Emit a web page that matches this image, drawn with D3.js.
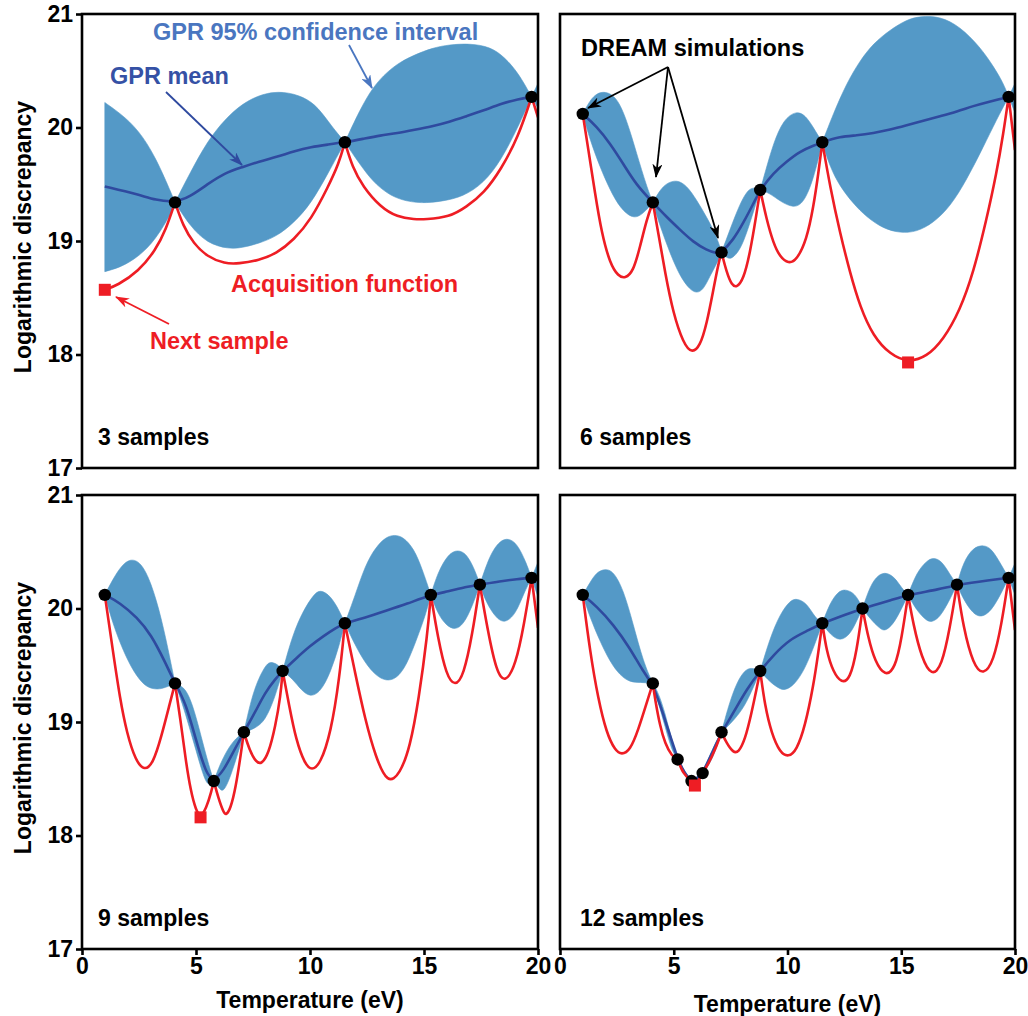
<!DOCTYPE html>
<html><head><meta charset="utf-8">
<script src="https://cdn.jsdelivr.net/npm/d3@7"></script>
<style>
body{margin:0;background:#fff}
svg{display:block}
text{font-family:"Liberation Sans",Arial,Helvetica,sans-serif;font-weight:bold}
</style>
</head><body>
<svg id="c" width="1028" height="1016"></svg>
<script>
// ---------------- data ----------------
const xTicks = [0, 5, 10, 15, 20];
const yTicks = [17, 18, 19, 20, 21];
const panelLabels = ["3 samples", "6 samples", "9 samples", "12 samples"];
const xTitle = "Temperature (eV)";
const yTitle = "Logarithmic discrepancy";

// ---- 3 samples ----
const samples3 = [[4.08,19.34],[11.53,19.87],[19.72,20.27]];
const next3 = [1.0,18.57];
const upper3 = [[1.0,20.22],[1.71,20.12],[2.47,19.98],[3.23,19.74],[3.98,19.39],[4.08,19.34],[4.74,19.60],[5.5,19.88],[6.26,20.07],[7.02,20.21],[7.92,20.30],[8.83,20.32],[9.74,20.27],[10.35,20.18],[10.95,20.01],[11.53,19.87],[12.17,20.15],[12.77,20.36],[13.38,20.49],[13.98,20.58],[14.59,20.64],[15.35,20.70],[16.11,20.73],[17.02,20.74],[17.92,20.71],[18.53,20.62],[19.14,20.48],[19.72,20.27],[20,20.39]];
const lower3 = [[1.0,18.73],[1.71,18.77],[2.47,18.86],[3.23,19.01],[3.98,19.27],[4.08,19.34],[4.74,19.13],[5.5,18.98],[6.41,18.93],[7.02,18.94],[7.77,18.98],[8.53,19.04],[9.29,19.16],[10.05,19.33],[10.8,19.60],[11.53,19.87],[12.17,19.68],[12.77,19.52],[13.38,19.42],[13.98,19.36],[14.89,19.33],[15.8,19.35],[16.71,19.39],[17.62,19.51],[18.38,19.71],[19.14,20.01],[19.72,20.27],[20,20.17]];
const mean3 = [[1.0,19.48],[2.47,19.41],[3.23,19.36],[4.08,19.34],[4.74,19.39],[5.5,19.50],[6.26,19.60],[7.02,19.65],[7.77,19.70],[8.53,19.74],[9.29,19.79],[10.05,19.83],[10.8,19.85],[11.53,19.87],[12.32,19.90],[13.08,19.93],[13.83,19.95],[14.59,19.98],[15.35,20.01],[16.11,20.05],[16.86,20.10],[17.62,20.15],[18.38,20.21],[19.14,20.25],[19.72,20.27],[20,20.28]];
const acq3 = [[1.0,18.57],[1.56,18.61],[2.47,18.73],[3.23,18.92],[3.68,19.10],[4.08,19.34],[4.44,19.13],[4.89,18.98],[5.5,18.86],[6.26,18.80],[6.86,18.80],[7.77,18.83],[8.53,18.89],[9.29,19.01],[10.05,19.19],[10.8,19.48],[11.26,19.68],[11.53,19.87],[11.86,19.65],[12.32,19.48],[13.08,19.30],[13.83,19.21],[14.59,19.19],[15.05,19.19],[16.11,19.21],[16.86,19.30],[17.62,19.42],[18.38,19.63],[19.14,19.92],[19.72,20.27],[20,20.09]];

// ---- 6 samples ----
const samples6 = [[1.0,20.12],[4.08,19.34],[7.1,18.90],[8.8,19.45],[11.53,19.87],[19.72,20.27]];
const next6 = [15.3,17.93];
const upper6 = [[1.0,20.12],[1.32,20.24],[1.61,20.30],[1.98,20.32],[2.49,20.27],[2.93,20.07],[3.37,19.77],[3.81,19.48],[4.08,19.34],[4.40,19.45],[4.69,19.51],[5.13,19.54],[5.57,19.49],[6.01,19.36],[6.45,19.21],[6.89,19.04],[7.1,18.90],[7.47,19.10],[7.91,19.33],[8.28,19.46],[8.57,19.47],[8.8,19.45],[9.08,19.65],[9.38,19.86],[9.82,20.07],[10.40,20.15],[10.84,20.10],[11.28,19.95],[11.53,19.87],[12.01,20.12],[12.6,20.39],[13.19,20.59],[13.77,20.74],[14.51,20.86],[15.24,20.95],[15.82,20.98],[16.70,20.98],[17.58,20.89],[18.46,20.71],[19.05,20.54],[19.49,20.39],[19.72,20.27],[20,20.39]];
const lower6 = [[1.0,20.12],[1.32,19.89],[1.76,19.65],[2.2,19.45],[2.64,19.29],[3.22,19.19],[3.66,19.24],[4.08,19.34],[4.40,19.13],[4.84,18.89],[5.27,18.69],[5.71,18.57],[6.01,18.54],[6.30,18.57],[6.59,18.69],[6.89,18.80],[7.1,18.90],[7.33,18.85],[7.55,18.84],[7.91,18.92],[8.21,19.07],[8.57,19.30],[8.8,19.45],[9.23,19.42],[9.67,19.35],[10.26,19.29],[10.70,19.33],[11.14,19.54],[11.53,19.87],[11.87,19.65],[12.31,19.48],[12.89,19.33],[13.48,19.21],[14.21,19.11],[14.95,19.07],[15.68,19.08],[16.41,19.16],[17.14,19.30],[17.88,19.54],[18.61,19.83],[19.19,20.07],[19.72,20.27],[20,20.13]];
const mean6 = [[1.0,20.12],[1.61,20.01],[2.2,19.86],[2.78,19.68],[3.37,19.49],[4.08,19.34],[4.69,19.21],[5.27,19.10],[5.86,18.99],[6.45,18.92],[6.89,18.89],[7.1,18.90],[7.62,19.01],[8.06,19.16],[8.5,19.33],[8.8,19.45],[9.38,19.60],[9.96,19.70],[10.55,19.79],[11.14,19.84],[11.53,19.87],[12.31,19.92],[13.04,19.93],[13.77,19.95],[14.51,19.98],[15.24,20.02],[15.97,20.06],[16.70,20.10],[17.44,20.14],[18.17,20.19],[18.90,20.23],[19.72,20.27],[20,20.28]];
const acq6 = [[1.0,20.12],[1.25,19.80],[1.54,19.42],[1.83,19.07],[2.2,18.80],[2.56,18.69],[2.86,18.67],[3.22,18.73],[3.52,18.95],[3.81,19.19],[4.08,19.34],[4.32,19.07],[4.62,18.72],[4.98,18.36],[5.42,18.10],[5.79,18.01],[6.15,18.07],[6.45,18.27],[6.74,18.57],[6.96,18.80],[7.1,18.90],[7.33,18.72],[7.55,18.61],[7.77,18.59],[8.06,18.66],[8.35,18.89],[8.64,19.24],[8.8,19.45],[9.08,19.19],[9.38,18.98],[9.67,18.86],[10.04,18.80],[10.40,18.83],[10.84,19.01],[11.14,19.30],[11.36,19.60],[11.53,19.87],[11.87,19.48],[12.31,19.07],[12.75,18.72],[13.19,18.42],[13.77,18.16],[14.51,18.0],[15.3,17.93],[16.12,17.98],[16.85,18.13],[17.58,18.39],[18.17,18.72],[18.75,19.19],[19.19,19.60],[19.49,19.95],[19.72,20.27],[20,19.80]];

// ---- 9 samples ----
const samples9 = [[1.0,20.12],[4.08,19.34],[5.78,18.48],[7.1,18.91],[8.8,19.45],[11.53,19.87],[15.3,20.12],[17.45,20.21],[19.72,20.27]];
const next9 = [5.2,18.16];
const upper9 = [[1.0,20.12],[1.36,20.26],[1.74,20.38],[2.12,20.44],[2.58,20.41],[3.03,20.23],[3.48,19.92],[3.86,19.56],[4.08,19.34],[4.47,19.31],[4.77,19.20],[5.08,18.99],[5.38,18.75],[5.68,18.54],[5.78,18.48],[6.06,18.63],[6.36,18.75],[6.67,18.84],[6.97,18.89],[7.1,18.91],[7.42,19.20],[7.73,19.38],[8.11,19.52],[8.33,19.53],[8.64,19.50],[8.8,19.45],[9.24,19.77],[9.70,19.98],[10.15,20.12],[10.45,20.17],[10.91,20.11],[11.29,19.98],[11.53,19.87],[11.97,20.11],[12.42,20.38],[12.88,20.54],[13.33,20.63],[13.71,20.65],[14.09,20.63],[14.55,20.53],[14.92,20.35],[15.3,20.12],[15.61,20.32],[16.06,20.48],[16.48,20.52],[16.89,20.48],[17.27,20.32],[17.45,20.21],[17.88,20.47],[18.33,20.60],[18.71,20.62],[19.09,20.57],[19.47,20.41],[19.72,20.27],[20,20.41]];
const lower9 = [[1.0,20.12],[1.36,19.86],[1.82,19.62],[2.27,19.44],[2.73,19.32],[3.11,19.29],[3.48,19.29],[3.86,19.32],[4.08,19.34],[4.39,19.17],[4.70,18.96],[5.0,18.75],[5.30,18.54],[5.53,18.43],[5.78,18.48],[6.06,18.40],[6.21,18.39],[6.44,18.48],[6.74,18.66],[6.97,18.81],[7.1,18.91],[7.42,18.93],[7.88,18.98],[8.18,19.08],[8.48,19.23],[8.8,19.45],[9.24,19.38],[9.62,19.28],[10.0,19.22],[10.45,19.26],[10.91,19.44],[11.29,19.68],[11.53,19.87],[11.97,19.68],[12.42,19.52],[12.88,19.41],[13.33,19.36],[13.79,19.38],[14.24,19.50],[14.70,19.74],[15.08,19.95],[15.3,20.12],[15.61,19.95],[15.98,19.85],[16.36,19.81],[16.74,19.86],[17.12,20.02],[17.45,20.21],[17.73,20.05],[18.18,19.91],[18.56,19.87],[19.02,19.95],[19.39,20.14],[19.72,20.27],[20,20.10]];
const mean9 = [[1.0,20.12],[1.67,20.05],[2.42,19.92],[3.03,19.77],[3.64,19.53],[4.08,19.34],[4.55,19.17],[5.0,18.84],[5.45,18.54],[5.78,18.48],[6.21,18.57],[6.67,18.75],[7.1,18.91],[7.58,19.08],[8.03,19.26],[8.48,19.38],[8.8,19.45],[9.39,19.56],[10.0,19.67],[10.61,19.76],[11.14,19.83],[11.53,19.87],[12.42,19.92],[13.33,19.98],[14.24,20.04],[15.3,20.12],[16.06,20.15],[16.82,20.19],[17.45,20.21],[18.33,20.24],[19.09,20.26],[19.72,20.27],[20,20.28]];
const acq9 = [[1.0,20.12],[1.36,19.62],[1.67,19.20],[1.97,18.90],[2.35,18.66],[2.73,18.57],[3.11,18.63],[3.48,18.87],[3.86,19.17],[4.08,19.34],[4.32,19.02],[4.55,18.66],[4.77,18.39],[5.0,18.22],[5.2,18.16],[5.45,18.24],[5.68,18.39],[5.78,18.48],[5.98,18.33],[6.21,18.20],[6.33,18.18],[6.52,18.24],[6.74,18.42],[6.97,18.72],[7.1,18.91],[7.35,18.75],[7.65,18.64],[7.88,18.63],[8.18,18.72],[8.48,18.96],[8.71,19.23],[8.8,19.45],[9.09,19.14],[9.39,18.84],[9.77,18.63],[10.08,18.57],[10.45,18.63],[10.91,18.90],[11.29,19.38],[11.53,19.87],[11.97,19.44],[12.42,19.02],[12.88,18.69],[13.41,18.45],[13.94,18.54],[14.39,18.78],[14.77,19.20],[15.15,19.77],[15.3,20.12],[15.61,19.74],[15.98,19.41],[16.36,19.31],[16.74,19.41],[17.12,19.77],[17.45,20.21],[17.80,19.80],[18.18,19.44],[18.56,19.34],[19.02,19.50],[19.39,19.86],[19.72,20.27],[20,19.83]];

// ---- 12 samples ----
const samples12 = [[1.0,20.12],[4.08,19.34],[5.17,18.67],[5.78,18.48],[6.27,18.55],[7.1,18.91],[8.8,19.45],[11.53,19.87],[13.3,20.0],[15.3,20.12],[17.45,20.21],[19.72,20.27]];
const next12 = [5.93,18.44];
const upper12 = [[1.0,20.12],[1.32,20.23],[1.61,20.32],[1.98,20.35],[2.34,20.33],[2.78,20.17],[3.22,19.86],[3.66,19.53],[4.08,19.34],[4.32,19.26],[4.62,19.08],[4.91,18.84],[5.17,18.67],[5.47,18.57],[5.78,18.48],[6.02,18.52],[6.27,18.55],[6.52,18.67],[6.81,18.81],[7.1,18.91],[7.40,19.14],[7.77,19.35],[8.13,19.46],[8.42,19.48],[8.8,19.45],[9.23,19.74],[9.67,19.95],[10.11,20.07],[10.40,20.09],[10.84,20.05],[11.21,19.92],[11.53,19.87],[11.87,20.05],[12.23,20.15],[12.53,20.17],[12.89,20.14],[13.11,20.08],[13.3,20.0],[13.63,20.20],[13.99,20.30],[14.36,20.32],[14.73,20.27],[15.02,20.18],[15.3,20.12],[15.68,20.32],[16.12,20.42],[16.41,20.45],[16.78,20.42],[17.14,20.30],[17.45,20.21],[17.73,20.41],[18.17,20.54],[18.61,20.56],[18.97,20.53],[19.41,20.38],[19.72,20.27],[20,20.40]];
const lower12 = [[1.0,20.12],[1.32,19.92],[1.76,19.71],[2.20,19.53],[2.64,19.41],[3.08,19.35],[3.52,19.35],[4.08,19.34],[4.32,19.17],[4.62,18.96],[4.91,18.75],[5.17,18.67],[5.47,18.53],[5.78,18.48],[6.02,18.48],[6.27,18.55],[6.52,18.61],[6.81,18.73],[7.1,18.91],[7.47,18.98],[7.91,19.08],[8.28,19.20],[8.8,19.45],[9.23,19.35],[9.67,19.29],[9.89,19.28],[10.26,19.32],[10.70,19.44],[11.14,19.65],[11.53,19.87],[11.87,19.77],[12.31,19.71],[12.75,19.77],[13.04,19.89],[13.3,20.0],[13.63,19.91],[14.07,19.82],[14.29,19.80],[14.65,19.86],[15.02,20.0],[15.3,20.12],[15.68,19.98],[16.12,19.89],[16.34,19.88],[16.70,19.92],[17.14,20.08],[17.45,20.21],[17.73,20.08],[18.17,19.95],[18.53,19.92],[18.97,19.98],[19.41,20.14],[19.72,20.27],[20,20.12]];
const mean12 = [[1.0,20.12],[1.61,20.02],[2.34,19.86],[3.08,19.65],[3.66,19.44],[4.08,19.34],[4.62,19.02],[5.17,18.67],[5.47,18.55],[5.78,18.48],[6.02,18.50],[6.27,18.55],[6.67,18.72],[7.1,18.91],[7.62,19.08],[8.21,19.29],[8.8,19.45],[9.38,19.59],[10.11,19.73],[10.84,19.80],[11.53,19.87],[12.6,19.95],[13.3,20.0],[14.65,20.08],[15.3,20.12],[16.70,20.17],[17.45,20.21],[18.90,20.25],[19.72,20.27],[20,20.28]];
const acq12 = [[1.0,20.12],[1.32,19.62],[1.68,19.20],[2.05,18.90],[2.42,18.75],[2.71,18.71],[3.08,18.75],[3.44,18.93],[3.81,19.17],[4.08,19.34],[4.18,19.20],[4.40,18.96],[4.62,18.81],[4.91,18.70],[5.17,18.67],[5.42,18.54],[5.78,18.48],[5.93,18.44],[6.08,18.48],[6.27,18.55],[6.52,18.63],[6.81,18.75],[7.1,18.91],[7.33,18.81],[7.62,18.73],[7.84,18.73],[8.13,18.84],[8.42,19.08],[8.64,19.29],[8.8,19.45],[9.01,19.14],[9.30,18.90],[9.67,18.73],[10.04,18.69],[10.40,18.75],[10.77,18.96],[11.14,19.32],[11.36,19.62],[11.53,19.87],[11.72,19.62],[12.01,19.44],[12.38,19.34],[12.75,19.38],[13.04,19.62],[13.3,20.0],[13.55,19.74],[13.85,19.53],[14.29,19.40],[14.73,19.47],[15.02,19.74],[15.3,20.12],[15.53,19.86],[15.90,19.56],[16.34,19.40],[16.78,19.49],[17.14,19.83],[17.45,20.21],[17.73,19.83],[18.17,19.50],[18.61,19.41],[19.05,19.53],[19.41,19.86],[19.72,20.27],[20,19.81]];

// ---------------- layout / style ----------------
const C = {band:"#5499c7", mean:"#2f4a9f", red:"#ee1d24", ciText:"#4a76c0", meanText:"#3551a5"};
const panels = [
  {label:panelLabels[0], samples:samples3, next:next3, upper:upper3, lower:lower3, mean:mean3, acq:acq3, x0:82, x1:538, y0:14, y1:468, yAxis:true, xAxis:false, lx:98},
  {label:panelLabels[1], samples:samples6, next:next6, upper:upper6, lower:lower6, mean:mean6, acq:acq6, x0:560, x1:1015, y0:14, y1:468, yAxis:false, xAxis:false, lx:580},
  {label:panelLabels[2], samples:samples9, next:next9, upper:upper9, lower:lower9, mean:mean9, acq:acq9, x0:82, x1:538, y0:495, y1:949, yAxis:true, xAxis:true, lx:98},
  {label:panelLabels[3], samples:samples12, next:next12, upper:upper12, lower:lower12, mean:mean12, acq:acq12, x0:560, x1:1015, y0:495, y1:949, yAxis:false, xAxis:true, lx:580}
];

const svg = d3.select("#c");
const defs = svg.append("defs");
function marker(id, color){
  defs.append("marker").attr("id", id).attr("viewBox","0 0 14 10")
    .attr("refX",13).attr("refY",5).attr("markerWidth",14).attr("markerHeight",10)
    .attr("markerUnits","userSpaceOnUse").attr("orient","auto")
    .append("path").attr("d","M0,0 L14,5 L0,10 L4,5 Z").attr("fill",color);
}
marker("arBlack","#000"); marker("arRed",C.red); marker("arMean",C.mean); marker("arCI",C.ciText);

function splitAt(points, ts){
  const isS = t => ts.some(s => Math.abs(s - t) < 1e-9);
  const segs = []; let cur = [];
  points.forEach(p => { cur.push(p); if (isS(p[0]) && cur.length > 1){ segs.push(cur); cur = [p]; } });
  if (cur.length > 1) segs.push(cur);
  return segs;
}

panels.forEach((P, i) => {
  const x = d3.scaleLinear().domain([0,20]).range([P.x0, P.x1]);
  const y = d3.scaleLinear().domain([17,21]).range([P.y1, P.y0]);
  const g = svg.append("g");
  const clipId = "clip" + i;
  defs.append("clipPath").attr("id", clipId).append("rect")
    .attr("x", P.x0).attr("y", P.y0).attr("width", P.x1 - P.x0).attr("height", P.y1 - P.y0);
  const plot = g.append("g").attr("clip-path", `url(#${clipId})`);
  const line = d3.line().x(d => x(d[0])).y(d => y(d[1])).curve(d3.curveBasis);
  const ts = P.samples.map(s => s[0]);

  // confidence band
  const us = splitAt(P.upper, ts), ls = splitAt(P.lower, ts);
  us.forEach((u, k) => {
    const l = ls[k];
    const d = line(u) + "L" + line(l.slice().reverse()).slice(1) + "Z";
    plot.append("path").attr("d", d).attr("fill", C.band).attr("stroke", C.band).attr("stroke-width", 0.6);
  });
  // mean
  plot.append("path").attr("d", line(P.mean)).attr("fill","none").attr("stroke", C.mean).attr("stroke-width", 2.6);
  // acquisition
  const as = splitAt(P.acq, ts);
  plot.append("path").attr("d", as.map(s => line(s)).join("")).attr("fill","none")
    .attr("stroke", C.red).attr("stroke-width", 2.6).attr("stroke-linejoin","miter");
  // samples
  plot.selectAll("circle.s").data(P.samples).join("circle").attr("class","s")
    .attr("cx", d => x(d[0])).attr("cy", d => y(d[1])).attr("r", 6.2).attr("fill", "#000");
  // next sample
  plot.append("rect").attr("x", x(P.next[0]) - 6).attr("y", y(P.next[1]) - 6)
    .attr("width", 12).attr("height", 12).attr("fill", C.red);

  // frame
  g.append("rect").attr("x", P.x0).attr("y", P.y0).attr("width", P.x1 - P.x0).attr("height", P.y1 - P.y0)
    .attr("fill","none").attr("stroke","#000").attr("stroke-width", 2.6);
  if (P.yAxis){
    const ax = g.append("g").attr("transform", `translate(${P.x0},0)`)
      .call(d3.axisLeft(y).tickValues(yTicks).tickFormat(d3.format("d")).tickSize(6).tickSizeOuter(0).tickPadding(3));
    ax.select(".domain").remove();
    ax.selectAll("line").attr("stroke","#000").attr("stroke-width",2.6);
    ax.selectAll("text").attr("font-size",23).attr("fill","#000").style("font-weight","bold")
      .style("font-family","'Liberation Sans',Arial,sans-serif");
    g.append("text").attr("transform", `translate(31,${(P.y0+P.y1)/2 - 4}) rotate(-90)`)
      .attr("text-anchor","middle").attr("font-size",23).attr("fill","#000").text(yTitle);
  }
  if (P.xAxis){
    const ax = g.append("g").attr("transform", `translate(0,${P.y1})`)
      .call(d3.axisBottom(x).tickValues(xTicks).tickFormat(d3.format("d")).tickSize(6).tickSizeOuter(0).tickPadding(3));
    ax.select(".domain").remove();
    ax.selectAll("line").attr("stroke","#000").attr("stroke-width",2.6);
    ax.selectAll("text").attr("font-size",23).attr("fill","#000").style("font-weight","bold")
      .style("font-family","'Liberation Sans',Arial,sans-serif");
    g.append("text").attr("x", (P.x0+P.x1)/2).attr("y", i === 2 ? 1008 : 1012)
      .attr("text-anchor","middle").attr("font-size",23).attr("fill","#000").text(xTitle);
  }
  // panel label
  g.append("text").attr("x", P.lx).attr("y", P.y1 - 23).attr("font-size",23).attr("fill","#000").text(P.label);
});

// ---------------- annotations ----------------
const notes = [
  {t:"GPR 95% confidence interval", x:153, y:40, c:C.ciText},
  {t:"GPR mean", x:110, y:84, c:C.meanText},
  {t:"Acquisition function", x:231, y:292, c:C.red},
  {t:"Next sample", x:150, y:349, c:C.red},
  {t:"DREAM simulations", x:581, y:56, c:"#000"}
];
notes.forEach(n => svg.append("text").attr("x", n.x).attr("y", n.y).attr("font-size", 23.5).attr("fill", n.c).text(n.t));

const arrows = [
  {x1:166, y1:92, x2:242, y2:165, c:C.mean, m:"arMean"},
  {x1:349, y1:45, x2:372, y2:88, c:C.ciText, m:"arCI"},
  {x1:169, y1:324, x2:116, y2:297, c:C.red, m:"arRed"},
  {x1:668, y1:67, x2:588, y2:108, c:"#000", m:"arBlack"},
  {x1:668, y1:67, x2:656, y2:177, c:"#000", m:"arBlack"},
  {x1:668, y1:67, x2:718, y2:238, c:"#000", m:"arBlack"}
];
arrows.forEach(a => svg.append("line").attr("x1", a.x1).attr("y1", a.y1).attr("x2", a.x2).attr("y2", a.y2)
  .attr("stroke", a.c).attr("stroke-width", 1.8).attr("marker-end", `url(#${a.m})`));
</script>
</body></html>
